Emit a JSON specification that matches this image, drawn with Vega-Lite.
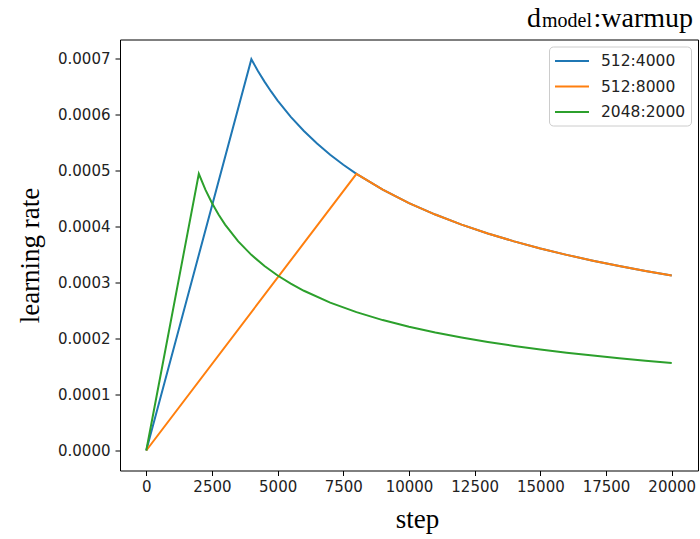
{
  "$schema": "https://vega.github.io/schema/vega-lite/v6.json",
  "width": 578,
  "height": 431,
  "autosize": {"type": "none"},
  "padding": {"left": 120, "top": 39.5, "right": 2, "bottom": 68.5},
  "background": "white",
  "config": {
    "view": {"stroke": "#000000", "strokeWidth": 1},
    "axis": {
      "domain": false,
      "grid": false,
      "tickColor": "#000000",
      "tickSize": 5,
      "labelFont": "DejaVu Sans",
      "labelFontSize": 15,
      "labelColor": "#222222",
      "titleFont": "Liberation Serif",
      "titleFontSize": 27,
      "titleFontWeight": "normal",
      "titleColor": "#000000"
    }
  },
  "datasets": {
    "lr": [
      {"series": "512:4000", "step": 0, "lr": 0},
      {"series": "512:4000", "step": 4000, "lr": 0.00069877},
      {"series": "512:4000", "step": 4250, "lr": 0.00067790},
      {"series": "512:4000", "step": 4500, "lr": 0.00065881},
      {"series": "512:4000", "step": 4750, "lr": 0.00064124},
      {"series": "512:4000", "step": 5000, "lr": 0.00062500},
      {"series": "512:4000", "step": 5500, "lr": 0.00059592},
      {"series": "512:4000", "step": 6000, "lr": 0.00057055},
      {"series": "512:4000", "step": 6500, "lr": 0.00054816},
      {"series": "512:4000", "step": 7000, "lr": 0.00052822},
      {"series": "512:4000", "step": 7500, "lr": 0.00051031},
      {"series": "512:4000", "step": 8000, "lr": 0.00049411},
      {"series": "512:4000", "step": 9000, "lr": 0.00046585},
      {"series": "512:4000", "step": 10000, "lr": 0.00044194},
      {"series": "512:4000", "step": 11000, "lr": 0.00042138},
      {"series": "512:4000", "step": 12000, "lr": 0.00040344},
      {"series": "512:4000", "step": 13000, "lr": 0.00038761},
      {"series": "512:4000", "step": 14000, "lr": 0.00037351},
      {"series": "512:4000", "step": 15000, "lr": 0.00036085},
      {"series": "512:4000", "step": 16000, "lr": 0.00034939},
      {"series": "512:4000", "step": 17000, "lr": 0.00033895},
      {"series": "512:4000", "step": 18000, "lr": 0.00032941},
      {"series": "512:4000", "step": 19000, "lr": 0.00032062},
      {"series": "512:4000", "step": 20000, "lr": 0.00031250},
      {"series": "512:8000", "step": 0, "lr": 0},
      {"series": "512:8000", "step": 8000, "lr": 0.00049411},
      {"series": "512:8000", "step": 9000, "lr": 0.00046585},
      {"series": "512:8000", "step": 10000, "lr": 0.00044194},
      {"series": "512:8000", "step": 11000, "lr": 0.00042138},
      {"series": "512:8000", "step": 12000, "lr": 0.00040344},
      {"series": "512:8000", "step": 13000, "lr": 0.00038761},
      {"series": "512:8000", "step": 14000, "lr": 0.00037351},
      {"series": "512:8000", "step": 15000, "lr": 0.00036085},
      {"series": "512:8000", "step": 16000, "lr": 0.00034939},
      {"series": "512:8000", "step": 17000, "lr": 0.00033895},
      {"series": "512:8000", "step": 18000, "lr": 0.00032941},
      {"series": "512:8000", "step": 19000, "lr": 0.00032062},
      {"series": "512:8000", "step": 20000, "lr": 0.00031250},
      {"series": "2048:2000", "step": 0, "lr": 0},
      {"series": "2048:2000", "step": 2000, "lr": 0.00049411},
      {"series": "2048:2000", "step": 2250, "lr": 0.00046585},
      {"series": "2048:2000", "step": 2500, "lr": 0.00044194},
      {"series": "2048:2000", "step": 2750, "lr": 0.00042138},
      {"series": "2048:2000", "step": 3000, "lr": 0.00040344},
      {"series": "2048:2000", "step": 3500, "lr": 0.00037351},
      {"series": "2048:2000", "step": 4000, "lr": 0.00034939},
      {"series": "2048:2000", "step": 4500, "lr": 0.00032941},
      {"series": "2048:2000", "step": 5000, "lr": 0.00031250},
      {"series": "2048:2000", "step": 5500, "lr": 0.00029796},
      {"series": "2048:2000", "step": 6000, "lr": 0.00028527},
      {"series": "2048:2000", "step": 7000, "lr": 0.00026411},
      {"series": "2048:2000", "step": 8000, "lr": 0.00024706},
      {"series": "2048:2000", "step": 9000, "lr": 0.00023292},
      {"series": "2048:2000", "step": 10000, "lr": 0.00022097},
      {"series": "2048:2000", "step": 11000, "lr": 0.00021069},
      {"series": "2048:2000", "step": 12000, "lr": 0.00020172},
      {"series": "2048:2000", "step": 13000, "lr": 0.00019380},
      {"series": "2048:2000", "step": 14000, "lr": 0.00018675},
      {"series": "2048:2000", "step": 15000, "lr": 0.00018042},
      {"series": "2048:2000", "step": 16000, "lr": 0.00017469},
      {"series": "2048:2000", "step": 17000, "lr": 0.00016947},
      {"series": "2048:2000", "step": 18000, "lr": 0.00016470},
      {"series": "2048:2000", "step": 19000, "lr": 0.00016031},
      {"series": "2048:2000", "step": 20000, "lr": 0.00015625}
    ],
    "titlerow": [{"part": "title"}]
  },
  "layer": [
    {
      "data": {"name": "lr"},
      "transform": [{"filter": "datum.series === '512:4000'"}],
      "mark": {"type": "line", "strokeWidth": 2, "clip": true},
      "encoding": {
        "x": {
          "field": "step",
          "type": "quantitative",
          "scale": {"domain": [-1000, 21000], "nice": false, "zero": false},
          "axis": {
            "title": "step",
            "values": [0, 2500, 5000, 7500, 10000, 12500, 15000, 17500, 20000],
            "format": "d",
            "labelPadding": 4,
            "titleX": 297,
            "titleY": 57,
            "titleBaseline": "alphabetic"
          }
        },
        "y": {
          "field": "lr",
          "type": "quantitative",
          "scale": {"domain": [-0.0000357, 0.000734], "nice": false, "zero": false},
          "axis": {
            "title": "learning rate",
            "values": [0, 0.0001, 0.0002, 0.0003, 0.0004, 0.0005, 0.0006, 0.0007],
            "format": ".4f",
            "labelPadding": 5,
            "titleX": -90,
            "titleY": 215.5,
            "titleAlign": "center",
            "titleBaseline": "middle",
            "titleAngle": -90
          }
        },
        "color": {
          "field": "series",
          "type": "nominal",
          "scale": {"domain": ["512:4000", "512:8000", "2048:2000"], "range": ["#1f77b4", "#ff7f0e", "#2ca02c"]},
          "legend": {
            "title": null,
            "orient": "top-right",
            "offset": 7,
            "symbolType": "M-1,0H3",
            "symbolSize": 289,
            "symbolStrokeWidth": 2,
            "labelFont": "DejaVu Sans",
            "labelFontSize": 15.5,
            "labelColor": "#222222",
            "labelOffset": 28,
            "rowPadding": 7.5,
            "padding": 5,
            "strokeColor": "#cccccc",
            "fillColor": "#ffffff",
            "cornerRadius": 4
          }
        }
      }
    },
    {
      "data": {"name": "lr"},
      "transform": [{"filter": "datum.series === '512:8000'"}],
      "mark": {"type": "line", "strokeWidth": 2, "clip": true},
      "encoding": {
        "x": {"field": "step", "type": "quantitative"},
        "y": {"field": "lr", "type": "quantitative"},
        "color": {"field": "series", "type": "nominal"}
      }
    },
    {
      "data": {"name": "lr"},
      "transform": [{"filter": "datum.series === '2048:2000'"}],
      "mark": {"type": "line", "strokeWidth": 2, "clip": true},
      "encoding": {
        "x": {"field": "step", "type": "quantitative"},
        "y": {"field": "lr", "type": "quantitative"},
        "color": {"field": "series", "type": "nominal"}
      }
    },
    {
      "data": {"name": "titlerow"},
      "mark": {"type": "text", "text": ":warmup", "font": "Liberation Serif", "fontSize": 28, "align": "right", "baseline": "alphabetic", "dx": -5, "color": "#000000"},
      "encoding": {"x": {"datum": 21000, "type": "quantitative"}, "y": {"datum": 0.000757, "type": "quantitative"}}
    },
    {
      "data": {"name": "titlerow"},
      "mark": {"type": "text", "text": "model", "font": "Liberation Serif", "fontSize": 20, "align": "right", "baseline": "alphabetic", "dx": -106, "color": "#000000"},
      "encoding": {"x": {"datum": 21000, "type": "quantitative"}, "y": {"datum": 0.000757, "type": "quantitative"}}
    },
    {
      "data": {"name": "titlerow"},
      "mark": {"type": "text", "text": "d", "font": "Liberation Serif", "fontSize": 28, "align": "right", "baseline": "alphabetic", "dx": -157, "color": "#000000"},
      "encoding": {"x": {"datum": 21000, "type": "quantitative"}, "y": {"datum": 0.000757, "type": "quantitative"}}
    }
  ]
}
